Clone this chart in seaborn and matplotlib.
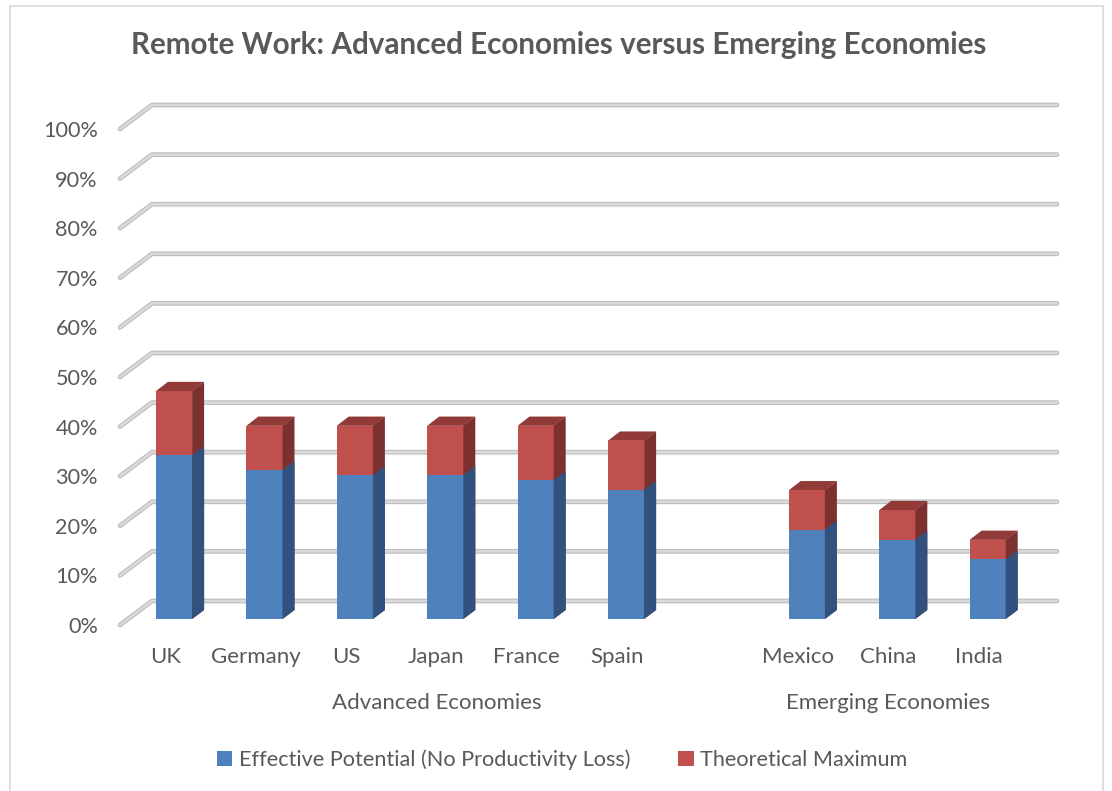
import numpy as np
import pandas as pd
import matplotlib
matplotlib.use("Agg")
import matplotlib.pyplot as plt
import seaborn as sns
from matplotlib import transforms
from matplotlib.patches import Patch, Rectangle, Polygon
import matplotlib.patheffects as pe

# ---------------- data ----------------
countries = ["UK", "Germany", "US", "Japan", "France", "Spain", "Mexico", "China", "India"]
effective = [33, 30, 29, 29, 28, 26, 18, 16, 12]          # Effective Potential (No Productivity Loss)
theoretical = [46, 39, 39, 39, 39, 36, 26, 22, 16]        # Theoretical Maximum (stack top)
slot_order = ["UK", "Germany", "US", "Japan", "France", "Spain", " ", "Mexico", "China", "India"]
group_names = ["Advanced Economies", "Emerging Economies"]
group_members = [["UK", "Germany", "US", "Japan", "France", "Spain", " "], ["Mexico", "China", "India"]]
y_ticks = list(range(0, 101, 10))
title = "Remote Work: Advanced Economies versus Emerging Economies"
series_names = ["Effective Potential (No Productivity Loss)", "Theoretical Maximum"]

BLUE, BLUE_SIDE = "#4F81BD", "#31527F"
RED, RED_SIDE, RED_TOP = "#C0504D", "#7C3130", "#913A38"
TXT = "#595959"

sns.set_theme(style="white")
plt.rcParams['font.family'] = ['Lato', 'DejaVu Sans']

W, H = 1112, 791
fig = plt.figure(figsize=(W / 100, H / 100), dpi=100)
fig.patch.set_facecolor("white")

# front plane geometry (pixels)
X0, Y0 = 120, 625
SX, SY = 90.4, 4.96
RIGHT, TOP = 1057, 104
WALLX, WALLY = 32, 24       # floor depth in px
BARX, BARY = 9, 6           # bar front offset from front plane
DEPX, DEPY = 12, 9          # bar depth

ax = fig.add_axes([X0 / W, 1 - Y0 / H, (RIGHT - X0) / W, (Y0 - TOP) / H])

df = pd.DataFrame({"country": countries, "effective": effective, "theoretical": theoretical})

sns.barplot(data=df, x="country", y="theoretical", order=slot_order, color=RED,
            saturation=1, width=0.404, errorbar=None, ax=ax, zorder=2, linewidth=0)
n_red = len(ax.patches)
sns.barplot(data=df, x="country", y="effective", order=slot_order, color=BLUE,
            saturation=1, width=0.404, errorbar=None, ax=ax, zorder=4, linewidth=0)

ax.set_xlim(-0.5, -0.5 + (RIGHT - X0) / SX)
ax.set_ylim(0, (Y0 - TOP) / SY)

off = transforms.offset_copy(ax.transData, fig=fig, x=BARX, y=BARY, units='dots')
dxd, dyd = DEPX / SX, DEPY / SY
eps = 0.004

patches = list(ax.patches)
for i, p in enumerate(patches):
    p.set_transform(off)
    x0, w, h = p.get_x(), p.get_width(), p.get_height()
    x1 = x0 + w - eps
    if i < n_red:
        side = Polygon([(x1, 0), (x1 + dxd, dyd), (x1 + dxd, h + dyd), (x1, h)],
                       closed=True, facecolor=RED_SIDE, edgecolor="none", transform=off, zorder=3)
        top = Polygon([(x0, h - 0.05), (x1, h - 0.05), (x1 + dxd, h + dyd), (x0 + dxd, h + dyd)],
                      closed=True, facecolor=RED_TOP, edgecolor="none", transform=off, zorder=1.9)
        ax.add_patch(side)
        ax.add_patch(top)
    else:
        side = Polygon([(x1, 0), (x1 + dxd, dyd), (x1 + dxd, h + dyd), (x1, h)],
                       closed=True, facecolor=BLUE_SIDE, edgecolor="none", transform=off, zorder=5)
        ax.add_patch(side)

# back wall / side wall gridlines
xmax = ax.get_xlim()[1]
wx, wy = WALLX / SX, WALLY / SY
for v in y_ticks:
    ax.plot([-0.5, -0.5 + wx, xmax], [v, v + wy, v + wy], color="#DADADA", lw=1.8,
            solid_joinstyle="round", solid_capstyle="round", clip_on=False, zorder=1,
            path_effects=[pe.Stroke(linewidth=3.4, foreground="#BDBDBD"), pe.Normal()])

for s in ax.spines.values():
    s.set_visible(False)
ax.set_xlabel("")
ax.set_ylabel("")
ax.set_yticks(y_ticks)
ax.set_yticklabels([f"{v}%" for v in y_ticks])
ax.tick_params(axis="y", length=0, pad=16, labelsize=15.6, labelcolor=TXT)
ax.tick_params(axis="x", length=0, pad=16, labelsize=16, labelcolor=TXT)
ax.grid(False)

# group labels
blend = transforms.blended_transform_factory(ax.transData, fig.transFigure)
for name, members in zip(group_names, group_members):
    idx = [slot_order.index(m) for m in members]
    ax.text(np.mean(idx), 1 - 703 / H, name, transform=blend, ha="center", va="center",
            fontsize=16, color=TXT)

fig.text(559 / W, 1 - 45 / H, title, ha="center", va="center", fontsize=21.3,
         fontweight="bold", color=TXT)

handles = [Patch(facecolor=BLUE, edgecolor="none"), Patch(facecolor=RED, edgecolor="none")]
fig.legend(handles, series_names, loc="center", bbox_to_anchor=(562 / W, 1 - 760 / H),
           ncol=2, frameon=False, fontsize=15.6, labelcolor=TXT, handlelength=0.72,
           handleheight=0.72, handletextpad=0.3, columnspacing=2.2)

fig.add_artist(Rectangle((10 / W, -0.05), (1103 - 10) / W, 1 - 6 / H + 0.05,
                         transform=fig.transFigure, fill=False, edgecolor="#D9D9D9", lw=1.2))

fig.savefig("out.png", dpi=100, facecolor="white")
